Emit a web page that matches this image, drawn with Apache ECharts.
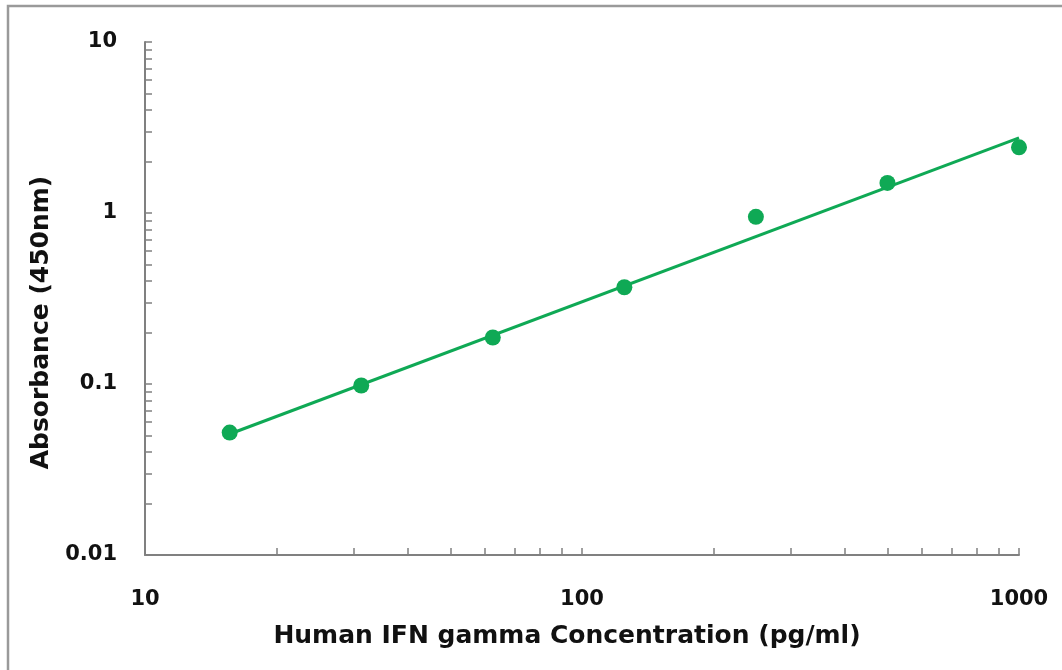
<!DOCTYPE html>
<html>
<head>
<meta charset="utf-8">
<script src="https://cdn.jsdelivr.net/npm/echarts@6/dist/echarts.min.js"></script>
<style>
  html, body { margin: 0; padding: 0; background: #fff; }
  #chart { width: 1062px; height: 670px; }
</style>
</head>
<body>
<div id="chart"></div>
<script>
// standard curve points (concentration pg/ml, OD450)
const conc = [15.625, 31.25, 62.5, 125, 250, 500, 1000];
const absorb = [0.052, 0.098, 0.187, 0.368, 0.95, 1.5, 2.42];
// power-law fit line endpoints
const fitConc = [15.625, 1000];
const fitAbs = [0.051, 2.75];
// tick positions
const xTicks = [10, 20, 30, 40, 50, 60, 70, 80, 90, 100, 200, 300, 400, 500, 600, 700, 800, 900, 1000];
const yTicks = [0.01, 0.02, 0.03, 0.04, 0.05, 0.06, 0.07, 0.08, 0.09,
  0.1, 0.2, 0.3, 0.4, 0.5, 0.6, 0.7, 0.8, 0.9,
  1, 2, 3, 4, 5, 6, 7, 8, 9, 10];
const xLabels = [10, 100, 1000];
const yLabels = [0.01, 0.1, 1, 10];

const GREEN = "#0fa955";
const AXIS = "#808080";
const FONT = "DejaVu Sans, Verdana, sans-serif";
const fmt = (v) => String(+(+v).toPrecision(3));

const chart = echarts.init(document.getElementById("chart"));
chart.setOption({
  backgroundColor: "#fff",
  animation: false,
  grid: { left: 145, right: 43, top: 42, bottom: 115 },
  xAxis: {
    type: "log", logBase: 10, min: 10, max: 1000,
    name: "Human IFN gamma Concentration (pg/ml)",
    nameLocation: "middle", nameGap: 69,
    nameTextStyle: { fontFamily: FONT, fontWeight: "bold", fontSize: 25, color: "#111", padding: [0, 30, 0, 0] },
    axisLine: { lineStyle: { color: AXIS, width: 2 } },
    axisTick: { inside: true, length: 7, customValues: xTicks, lineStyle: { color: AXIS, width: 1.5 } },
    axisLabel: { customValues: xLabels, margin: 34, fontFamily: FONT, fontWeight: "bold", fontSize: 21, color: "#111",
      formatter: fmt },
    splitLine: { show: false },
  },
  yAxis: {
    type: "log", logBase: 10, min: 0.01, max: 10,
    name: "Absorbance (450nm)",
    nameLocation: "middle", nameGap: 86,
    nameTextStyle: { fontFamily: FONT, fontWeight: "bold", fontSize: 25, color: "#111", padding: [0, 48, 0, 0] },
    axisLine: { show: true, lineStyle: { color: AXIS, width: 2 } },
    axisTick: { show: true, inside: true, length: 7, customValues: yTicks, lineStyle: { color: AXIS, width: 1.5 } },
    axisLabel: { customValues: yLabels, margin: 28, fontFamily: FONT, fontWeight: "bold", fontSize: 21, color: "#111",
      formatter: fmt },
    splitLine: { show: false },
  },
  series: [
    {
      type: "line", data: fitConc.map((c, i) => [c, fitAbs[i]]),
      showSymbol: false, lineStyle: { color: GREEN, width: 3 }, z: 2,
    },
    {
      type: "scatter", data: conc.map((c, i) => [c, absorb[i]]),
      symbolSize: 16, itemStyle: { color: GREEN, opacity: 1 }, z: 3,
    },
  ],
  graphic: [
    { type: "rect", shape: { x: 8, y: 6, width: 1080, height: 700 },
      style: { fill: "none", stroke: "#9a9a9a", lineWidth: 2.5 }, silent: true },
  ],
});
</script>
</body>
</html>
